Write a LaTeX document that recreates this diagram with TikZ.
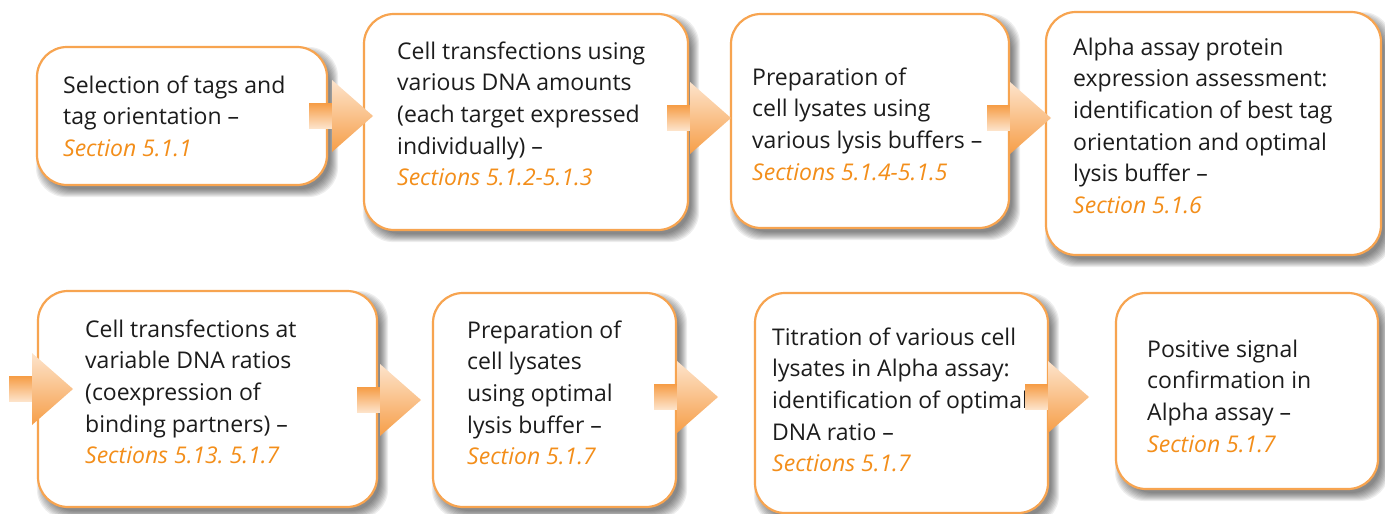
\documentclass[tikz,border=0pt]{standalone}
\usepackage{fontspec}
\setmainfont{Open Sans}
\usetikzlibrary{calc}
\definecolor{bord}{RGB}{247,164,80}
\definecolor{secor}{RGB}{243,142,26}
\definecolor{txtk}{RGB}{28,28,28}
\definecolor{arrdark}{RGB}{246,158,72}
\definecolor{arrlight}{RGB}{253,228,204}
\pgfdeclarelayer{bg}
\pgfsetlayers{bg,main}
\newcommand\sect[1]{{\color{secor}\itshape #1}}
\newcommand\mybox[5]{\node[box, minimum width={#4-#2}, minimum height={#5-#3}] (#1) at ({(#2+#4)/2},{(#3+#5)/2}) {};}
\tikzset{
  box/.style={draw=bord, line width=2.2pt, fill=white, rounded corners=30pt, inner sep=0pt},
  txt/.style={anchor=north west, inner sep=0pt, align=left, font=\fontsize{23}{31.7}\selectfont, text=txtk},
  blockarrow/.pic={
    \shade[top color=arrdark, bottom color=arrlight] (-23,-12.5) rectangle (0,12.5);
    \shade[top color=arrlight, bottom color=arrdark] (0,-36) -- (41,0) -- (0,36) -- cycle;
  }
}
\begin{document}
\begin{tikzpicture}[x=1pt,y=-1pt]
\useasboundingbox (0,0) rectangle (1385,514);
% boxes
\mybox{b1}{37}{47}{327}{185}
\mybox{b2}{364}{14}{688}{230}
\mybox{b3}{731}{14}{1009}{228}
\mybox{b4}{1046}{12}{1381}{255}
\mybox{b5}{38}{291}{377}{507}
\mybox{b6}{433}{293}{676}{507}
\mybox{b7}{755}{293}{1048}{513}
\mybox{b8}{1116}{293}{1378}{489}
% shadows
\begin{pgfonlayer}{bg}
\foreach \n in {b1,b2,b3,b4,b5,b6,b7,b8}{
  \foreach \i in {0,...,8}{
    \fill[black, opacity=0.065, rounded corners=30pt] ($(\n.north west)+(8-\i,9-\i)$) rectangle ($(\n.south east)+(2+\i,3+\i)$);
  }
}
\end{pgfonlayer}
% texts
\node[txt] (t1) at (63,70.8) {\strut Selection of tags and\\tag orientation –\\\sect{Section 5.1.1}};
\node[txt] (t2) at (397,36.8) {\strut Cell transfections using\\various DNA amounts\\(each target expressed\\individually) –\\\sect{Sections 5.1.2-5.1.3}};
\node[txt] (t3) at (752,62.8) {\strut Preparation of\\cell lysates using\\various lysis buffers –\\\sect{Sections 5.1.4-5.1.5}};
\node[txt] (t4) at (1073,32.8) {\strut Alpha assay protein\\expression assessment:\\identification of best tag\\orientation and optimal\\lysis buffer –\\\sect{Section 5.1.6}};
\node[txt] (t5) at (85,314.8) {\strut Cell transfections at\\variable DNA ratios\\(coexpression of\\binding partners) –\\\sect{Sections 5.13.\ 5.1.7}};
\node[txt] (t6) at (467,315.8) {\strut Preparation of\\cell lysates\\using optimal\\lysis buffer –\\\sect{Section 5.1.7}};
\node[txt] (t7) at (772,322.8) {\strut Titration of various cell\\lysates in Alpha assay:\\identification of optimal\\DNA ratio –\\\sect{Sections 5.1.7}};
\node[txt] (t8) at (1147,334.8) {\strut Positive signal\\confirmation in\\Alpha assay –\\\sect{Section 5.1.7}};
% arrows
\coordinate (a0) at (32,389);
\coordinate (a1) at (332,116);
\coordinate (a2) at (690,118);
\coordinate (a3) at (1010,118);
\coordinate (a4) at (380,400);
\coordinate (a5) at (677,397);
\coordinate (a6) at (1048,397);
\foreach \a in {a0,a1,a2,a3,a4,a5,a6}{ \pic at (\a) {blockarrow}; }
\end{tikzpicture}
\end{document}
